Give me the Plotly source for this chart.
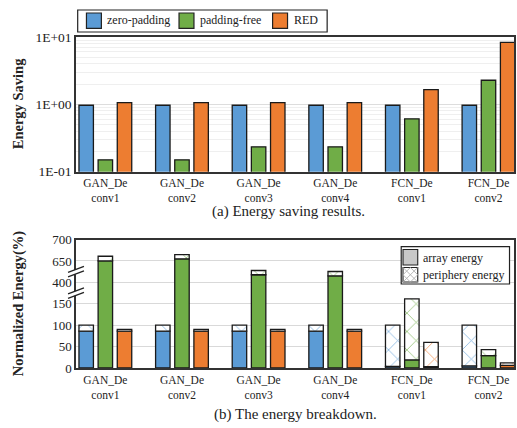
import plotly.graph_objects as go

# ---------------- data ----------------
categories = ["GAN_De<br>conv1", "GAN_De<br>conv2", "GAN_De<br>conv3",
              "GAN_De<br>conv4", "FCN_De<br>conv1", "FCN_De<br>conv2"]
series_names = ["zero-padding", "padding-free", "RED"]

# (a) energy saving (log scale)
saving_zero_padding = [0.97, 0.97, 0.97, 0.97, 0.97, 0.97]
saving_padding_free = [0.15, 0.15, 0.234, 0.234, 0.61, 2.28]
saving_red = [1.06, 1.06, 1.06, 1.06, 1.66, 8.3]

# (b) energy breakdown (%), array part and total (array + periphery)
array_zero_padding = [86, 86, 86, 86, 4, 5]
total_zero_padding = [100, 100, 100, 100, 100, 100]
array_padding_free = [650, 655, 489, 477, 19, 29]
total_padding_free = [661, 665, 539, 527, 208, 43]
array_red = [86, 86, 86, 86, 3, 6]
total_red = [90, 90, 90, 90, 60, 12]

ytick_values_b = [0, 50, 100, 150, 400, 650, 700]
ytick_labels_a = ["1E-01", "1E+00", "1E+01"]
breakdown_names = ["array energy", "periphery energy"]

# ---------------- styling ----------------
colors = ["#5b9bd5", "#70ad47", "#ed7d31"]
FONT = "Liberation Serif"
OUT = dict(color="#1a1a1a", width=1.3)

L, R, T, B = 76, 1, 37, 60
W, H = 517, 428
PW, PH = W - L - R, H - T - B


def px(x):
    return (x - L) / PW


def py(y):
    return (H - B - y) / PH


def brk(v):
    """broken-axis mapping: every labelled tick gets equal spacing"""
    if v <= 150:
        return v / 50.0
    if v <= 400:
        return 3 + (v - 150) / 250.0
    if v <= 650:
        return 4 + (v - 400) / 250.0
    return 5 + (v - 650) / 50.0


fig = go.Figure()

# ---- (a) ----
for name, vals, col, g in zip(series_names,
                              [saving_zero_padding, saving_padding_free, saving_red],
                              colors, ["g0", "g1", "g2"]):
    fig.add_trace(go.Bar(x=categories, y=vals, name=name, marker=dict(color=col, line=OUT),
                         offsetgroup=g, xaxis="x", yaxis="y", showlegend=False))

# ---- (b) ----
arrays = [array_zero_padding, array_padding_free, array_red]
totals = [total_zero_padding, total_padding_free, total_red]
for name, arr, tot, col, g in zip(series_names, arrays, totals, colors, ["g0", "g1", "g2"]):
    base_t = [brk(a) for a in arr]
    top_t = [brk(t) for t in tot]
    fig.add_trace(go.Bar(x=categories, y=base_t, name=name + " " + breakdown_names[0],
                         marker=dict(color=col, line=OUT), customdata=arr,
                         hovertemplate="%{customdata}<extra></extra>",
                         offsetgroup=g, xaxis="x2", yaxis="y2", showlegend=False))
    fig.add_trace(go.Bar(x=categories, y=[t - b for t, b in zip(top_t, base_t)], base=base_t,
                         name=name + " " + breakdown_names[1], customdata=tot,
                         hovertemplate="%{customdata}<extra></extra>",
                         marker=dict(color="white", line=OUT,
                                     pattern=dict(shape="x", fgcolor=col, bgcolor="white",
                                                  size=13, solidity=0.12, fgopacity=0.75)),
                         offsetgroup=g, xaxis="x2", yaxis="y2", showlegend=False))

xr = [-0.383, 5.333]
axis_line = dict(showline=True, linecolor="#333333", linewidth=1.5, mirror=True)
xcommon = dict(range=xr, ticks="", tickfont=dict(family=FONT, size=11.5, color="#222"),
               showgrid=False, **axis_line)

fig.update_layout(
    width=W, height=H,
    margin=dict(l=L, r=R, t=T, b=B),
    paper_bgcolor="white", plot_bgcolor="white",
    barmode="group", bargap=0.25, bargroupgap=0.245,
    font=dict(family=FONT, color="#222"),
    showlegend=False,
    xaxis=dict(anchor="y", **xcommon),
    yaxis=dict(domain=[0.593, 1.0], type="log", range=[-1, 1], anchor="x",
               tickvals=[0.1, 1, 10], ticktext=ytick_labels_a, ticks="",
               tickfont=dict(family=FONT, size=13.5, color="#222"),
               showgrid=True, gridcolor="#dddddd", gridwidth=1,
               minor=dict(showgrid=True, gridcolor="#efefef", gridwidth=1,
                          tickvals=[0.2, 0.3, 0.4, 0.5, 0.6, 0.7, 0.8, 0.9,
                                    2, 3, 4, 5, 6, 7, 8, 9]),
               **axis_line),
    xaxis2=dict(anchor="y2", **xcommon),
    yaxis2=dict(domain=[0.0, 0.388], range=[0, 6], anchor="x2",
                tickvals=[brk(v) for v in ytick_values_b],
                ticktext=[str(v) for v in ytick_values_b], ticks="",
                tickfont=dict(family=FONT, size=13, color="#222"),
                showgrid=True, gridcolor="#d9d9d9", gridwidth=1, zeroline=False,
                **axis_line),
)

annos = [
    dict(text="<b>Energy Saving</b>", x=px(18), y=py(104), textangle=-90,
         font=dict(family=FONT, size=14.5, color="#222")),
    dict(text="<b>Normalized Energy(%)</b>", x=px(18), y=py(303), textangle=-90,
         font=dict(family=FONT, size=14.5, color="#222")),
    dict(text="(a) Energy saving results.", x=px(289), y=py(211),
         font=dict(family=FONT, size=15, color="#222")),
    dict(text="(b) The energy breakdown.", x=px(296), y=py(414),
         font=dict(family=FONT, size=15, color="#222")),
]
for a in annos:
    fig.add_annotation(xref="paper", yref="paper", showarrow=False,
                       xanchor="center", yanchor="middle", **a)


def rect(x0, y0, x1, y1, fill, line_color="#222", width=1.0):
    fig.add_shape(type="rect", xref="paper", yref="paper", layer="above",
                  x0=px(x0), x1=px(x1), y0=py(y0), y1=py(y1),
                  fillcolor=fill, line=dict(color=line_color, width=width))


def label(text, x, y):
    fig.add_annotation(xref="paper", yref="paper", showarrow=False, text=text,
                       x=px(x), y=py(y), xanchor="left", yanchor="middle",
                       borderpad=0, font=dict(family=FONT, size=12, color="#222"))


# legend of (a)
rect(77.7, 10, 328.3, 32, "white", width=1.2)
leg_a = [(86.5, 106.5), (179.5, 199.5), (273.5, 293.5)]
for (sx, tx), col, name in zip(leg_a, colors, series_names):
    rect(sx, 13, sx + 15, 28.3, col, width=1.2)
    label(name, tx, 20.5)

# legend of (b)
rect(402.7, 246.7, 511.5, 284, "white", width=1.2)
rect(404.5, 249.5, 419.3, 265, "#c8c8c8", width=1.1)
label(breakdown_names[0], 423.5, 258)
rect(404.5, 267.5, 419.3, 282, "white", width=1.1)
hx0, hx1, hy0, hy1 = 404.5, 419.3, 267.5, 282
hm, vm = (hx0 + hx1) / 2, (hy0 + hy1) / 2
fig.add_shape(type="path", xref="paper", yref="paper", layer="above",
              path=(f"M {px(hx0)},{py(hy0)} L {px(hx1)},{py(hy1)} "
                    f"M {px(hx1)},{py(hy0)} L {px(hx0)},{py(hy1)} "
                    f"M {px(hm)},{py(hy0)} L {px(hx1)},{py(vm)} L {px(hm)},{py(hy1)} "
                    f"L {px(hx0)},{py(vm)} Z"),
              line=dict(color="#b0b0b0", width=0.9))
label(breakdown_names[1], 423.5, 275)

# axis break marks on the left axis of (b)
pxu = 1.0 / PW
unit = 1.0 / 21.4  # y2 units per pixel
for c in [3.5, 4.5]:
    x0, x1 = -8 * pxu, 8 * pxu
    d = 3 * unit
    h = 2.2 * unit
    fig.add_shape(type="path", xref="paper", yref="y2", layer="above",
                  path=f"M {x0},{c - d + h} L {x1},{c + d + h} L {x1},{c + d - h} L {x0},{c - d - h} Z",
                  fillcolor="white", line=dict(width=0))
    for s in (h, -h):
        fig.add_shape(type="line", xref="paper", yref="y2", layer="above",
                      x0=x0, y0=c - d + s, x1=x1, y1=c + d + s,
                      line=dict(color="#222", width=1.3))

fig.write_html("out.html", config={"displayModeBar": False},
               post_script="document.body.style.margin='0';document.body.style.overflow='hidden';")
